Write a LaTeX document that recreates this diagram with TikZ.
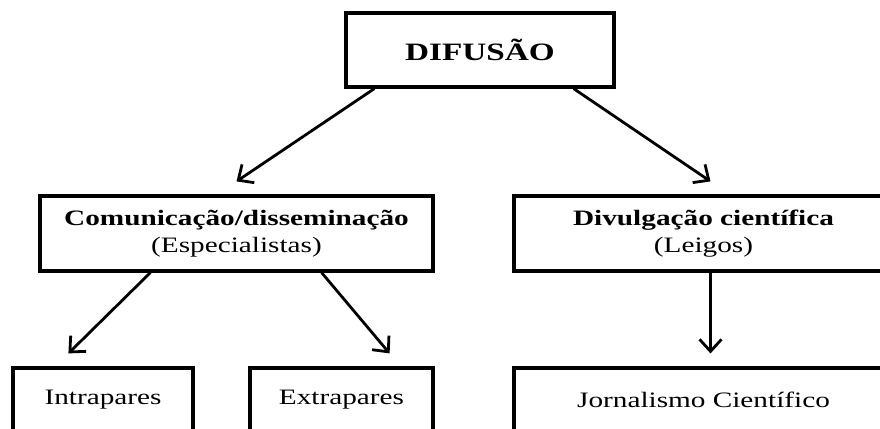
\documentclass[tikz,border=0pt]{standalone}
\usepackage{fontspec}
\setmainfont{Liberation Serif}[FakeStretch=1.33]
\usetikzlibrary{arrows.meta}

\begin{document}
\begin{tikzpicture}[x=1pt,y=-1pt,
        box/.style={draw,line width=3.2pt,inner sep=0pt,align=center,font=\fontsize{22}{27}\selectfont},
        seta/.style={line width=2.8pt,-{Straight Barb[length=12pt,width=22pt]}}]
            \useasboundingbox (0,0) rectangle (880,428);
            \clip (0,0) rectangle (880,428);
            \fill[white] (0,0) rectangle (880,428);

            \node[box,minimum width=268pt,minimum height=74pt,font=\fontsize{25}{30}\selectfont\bfseries] (dif) at (480,50) {DIFUSÃO};
            \node[box,minimum width=393pt,minimum height=75pt] (com) at (236.5,233.5) {\textbf{Comunicação/disseminação}\\(Especialistas)};
            \node[box,minimum width=379pt,minimum height=75pt] (div) at (703.5,233.5) {\textbf{Divulgação científica}\\(Leigos)};
            \node[box,minimum width=180pt,minimum height=64pt] (intra) at (103,400) {Intrapares};
            \node[box,minimum width=183pt,minimum height=64pt] (extra) at (341.5,400) {Extrapares};
            \node[box,minimum width=379pt,minimum height=64pt] (jorn) at (703.5,400) {Jornalismo Científico};

            \draw[seta] ([xshift=30pt]dif.south west) -- ([yshift=13pt]com.north);
            \draw[seta] ([xshift=-42pt]dif.south east) -- ([xshift=7pt,yshift=13pt]div.north);
            \draw[seta] ([xshift=112pt]com.south west) -- ([xshift=57pt,yshift=13pt]intra.north west);
            \draw[seta] ([xshift=-113pt]com.south east) -- ([xshift=-45pt,yshift=13pt]extra.north east);
            \draw[seta] ([xshift=7pt]div.south) -- ([xshift=7pt,yshift=13pt]jorn.north);
        \end{tikzpicture}
\end{document}
